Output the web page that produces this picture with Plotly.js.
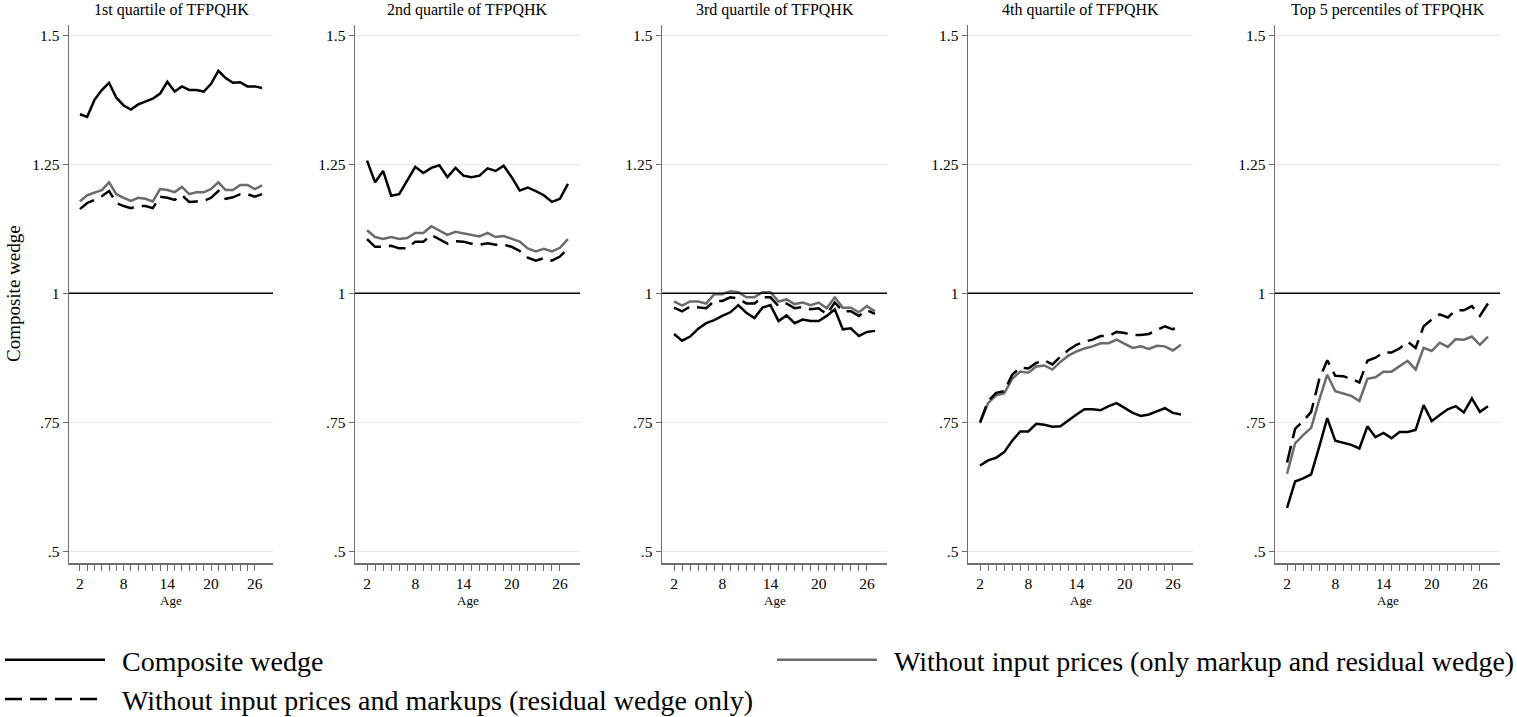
<!DOCTYPE html>
<html>
<head>
<meta charset="utf-8">
<script src="https://cdn.plot.ly/plotly-3.0.1.min.js"></script>
<style>
  html, body { margin: 0; padding: 0; background: #ffffff; }
  #chart { width: 1517px; height: 717px; }
</style>
</head>
<body>
<div id="chart"></div>
<script>
// ---------------- DATA ----------------
const ages = [2,3,4,5,6,7,8,9,10,11,12,13,14,15,16,17,18,19,20,21,22,23,24,25,26,27];

const panelTitles = [
  "1st quartile of TFPQHK",
  "2nd quartile of TFPQHK",
  "3rd quartile of TFPQHK",
  "4th quartile of TFPQHK",
  "Top 5 percentiles of TFPQHK"
];

const seriesNames = [
  "Composite wedge",
  "Without input prices (only markup and residual wedge)",
  "Without input prices and markups (residual wedge only)"
];

const xAxisTitle = "Age";
const yAxisTitle = "Composite wedge";

// 1st quartile
const composite_q1 = [1.347,1.342,1.375,1.394,1.408,1.379,1.364,1.356,1.366,1.371,1.377,1.387,1.410,1.391,1.401,1.394,1.394,1.391,1.406,1.431,1.417,1.408,1.409,1.401,1.401,1.398];
const noPrices_q1  = [1.178,1.190,1.195,1.200,1.215,1.192,1.185,1.179,1.185,1.183,1.178,1.202,1.200,1.196,1.206,1.192,1.196,1.196,1.202,1.215,1.200,1.200,1.210,1.210,1.202,1.209];
const residual_q1  = [1.163,1.175,1.181,1.188,1.198,1.175,1.169,1.165,1.169,1.169,1.165,1.187,1.185,1.181,1.190,1.177,1.178,1.179,1.185,1.198,1.183,1.186,1.192,1.192,1.187,1.192];

// 2nd quartile
const composite_q2 = [1.257,1.215,1.237,1.189,1.192,1.219,1.245,1.233,1.243,1.248,1.225,1.243,1.228,1.225,1.228,1.242,1.237,1.247,1.225,1.199,1.205,1.198,1.190,1.177,1.183,1.212];
const noPrices_q2  = [1.122,1.109,1.105,1.109,1.105,1.107,1.117,1.117,1.130,1.121,1.113,1.119,1.116,1.113,1.110,1.117,1.109,1.111,1.105,1.100,1.087,1.081,1.086,1.081,1.088,1.105];
const residual_q2  = [1.105,1.090,1.090,1.092,1.087,1.087,1.100,1.100,1.113,1.105,1.096,1.101,1.100,1.096,1.094,1.097,1.094,1.094,1.090,1.082,1.069,1.063,1.068,1.063,1.071,1.087];

// 3rd quartile
const composite_q3 = [0.921,0.908,0.916,0.931,0.942,0.948,0.956,0.963,0.977,0.962,0.952,0.972,0.977,0.946,0.957,0.942,0.949,0.946,0.946,0.956,0.969,0.930,0.932,0.917,0.925,0.927];
const noPrices_q3  = [0.984,0.976,0.984,0.984,0.980,0.998,0.998,1.004,1.002,0.992,0.992,1.002,1.002,0.984,0.988,0.979,0.982,0.977,0.982,0.971,0.992,0.972,0.972,0.963,0.975,0.965];
const residual_q3  = [0.972,0.965,0.974,0.973,0.971,0.985,0.985,0.992,0.990,0.980,0.980,0.992,0.992,0.975,0.980,0.971,0.973,0.969,0.971,0.959,0.982,0.965,0.965,0.956,0.967,0.960];

// 4th quartile
const composite_q4 = [0.666,0.676,0.681,0.692,0.714,0.732,0.732,0.747,0.745,0.741,0.742,0.754,0.765,0.775,0.775,0.773,0.781,0.787,0.777,0.768,0.762,0.765,0.771,0.777,0.768,0.765];
const noPrices_q4  = [0.748,0.787,0.802,0.806,0.834,0.848,0.846,0.858,0.860,0.852,0.867,0.879,0.887,0.893,0.897,0.903,0.903,0.910,0.902,0.894,0.897,0.892,0.898,0.897,0.889,0.900];
const residual_q4  = [0.750,0.791,0.807,0.810,0.842,0.856,0.854,0.865,0.870,0.862,0.877,0.890,0.900,0.906,0.910,0.917,0.917,0.925,0.923,0.919,0.919,0.921,0.929,0.936,0.930,0.940];

// Top 5 percentiles
const composite_top5 = [0.584,0.635,0.641,0.649,0.702,0.758,0.714,0.710,0.706,0.699,0.742,0.721,0.729,0.719,0.731,0.731,0.735,0.783,0.752,0.764,0.775,0.781,0.769,0.796,0.770,0.781];
const noPrices_top5  = [0.650,0.709,0.725,0.739,0.793,0.842,0.810,0.806,0.801,0.791,0.834,0.837,0.848,0.848,0.858,0.869,0.852,0.894,0.888,0.904,0.896,0.911,0.910,0.916,0.900,0.916];
const residual_top5  = [0.672,0.737,0.752,0.770,0.833,0.870,0.840,0.839,0.834,0.827,0.869,0.875,0.885,0.885,0.893,0.906,0.894,0.936,0.949,0.959,0.953,0.967,0.967,0.975,0.956,0.980];

const compositeSeries = [composite_q1, composite_q2, composite_q3, composite_q4, composite_top5];
const noPricesSeries  = [noPrices_q1, noPrices_q2, noPrices_q3, noPrices_q4, noPrices_top5];
const residualSeries  = [residual_q1, residual_q2, residual_q3, residual_q4, residual_top5];

const ageTickVals = [2,3,4,5,6,7,8,9,10,11,12,13,14,15,16,17,18,19,20,21,22,23,24,25,26];
const ageTickText = ["2","","","","","","8","","","","","","14","","","","","","20","","","","","","26"];
const wedgeTickVals = [0.5, 0.75, 1, 1.25, 1.5];
const wedgeTickText = [".5", ".75", "1", "1.25", "1.5"];
const referenceLevel = 1;

// ---------------- STYLE ----------------
const FONT = '"Liberation Serif", "Times New Roman", Times, serif';
const W = 1517, H = 717;
const panelPx = [[69, 273], [355, 580], [662, 887], [968, 1193], [1275, 1500]];
const BLACK = '#000000', GRAY = '#6b6b6b', AXIS = '#6e6e6e';
const KEY_LEN = 100;

const traces = [];
const legendCommon = {
  xref: 'container', yref: 'container',
  y: 1 - 635/717, xanchor: 'left', yanchor: 'top',
  orientation: 'v', itemwidth: 112, tracegroupgap: 0,
  bgcolor: 'rgba(0,0,0,0)', borderwidth: 0,
  font: {family: FONT, size: 28, color: '#000'}
};
const layout = {
  width: W, height: H,
  margin: {l: 0, r: 0, t: 25, b: 154, pad: 0, autoexpand: false},
  paper_bgcolor: '#ffffff', plot_bgcolor: '#ffffff',
  font: {family: FONT, color: '#000000', size: 15},
  showlegend: true,
  annotations: [],
  shapes: [],
  legend: Object.assign({}, legendCommon, {x: 0}),
  legend2: Object.assign({}, legendCommon, {x: 772 / W})
};

for (let p = 0; p < 5; p++) {
  const n = p + 1;
  const xa = 'x' + (n === 1 ? '' : n);
  const ya = 'y' + (n === 1 ? '' : n);
  const first = p === 0;

  traces.push({
    x: ages, y: compositeSeries[p], xaxis: xa, yaxis: ya,
    type: 'scatter', mode: 'lines', name: seriesNames[0],
    line: {color: BLACK, width: 2.5}, showlegend: first, legend: 'legend',
    legendgroup: 'a'
  });
  traces.push({
    x: ages, y: noPricesSeries[p], xaxis: xa, yaxis: ya,
    type: 'scatter', mode: 'lines', name: seriesNames[1],
    line: {color: GRAY, width: 2.5}, showlegend: first, legend: 'legend2',
    legendgroup: 'b'
  });
  traces.push({
    x: ages, y: residualSeries[p], xaxis: xa, yaxis: ya,
    type: 'scatter', mode: 'lines', name: seriesNames[2],
    line: {color: BLACK, width: 2.5, dash: '17px,8px'}, showlegend: first, legend: 'legend',
    legendgroup: 'c'
  });

  const xKey = 'xaxis' + (n === 1 ? '' : n);
  const yKey = 'yaxis' + (n === 1 ? '' : n);
  layout[xKey] = {
    domain: [panelPx[p][0] / W, panelPx[p][1] / W],
    anchor: ya,
    range: [0.5, 28.5],
    tickmode: 'array', tickvals: ageTickVals, ticktext: ageTickText,
    ticks: 'outside', ticklen: 6, tickwidth: 1, tickcolor: AXIS,
    showline: true, linecolor: AXIS, linewidth: 1.5,
    showgrid: false, zeroline: false, automargin: false,
    tickfont: {family: FONT, size: 15.5, color: '#000'}
  };
  layout[yKey] = {
    domain: [0, 1],
    anchor: xa,
    range: [0.477, 1.52],
    tickmode: 'array', tickvals: wedgeTickVals, ticktext: wedgeTickText,
    ticks: 'outside', ticklen: 5, tickwidth: 1, tickcolor: AXIS,
    showline: true, linecolor: AXIS, linewidth: 1.5,
    showgrid: true, gridcolor: '#e8e8e8', gridwidth: 1,
    zeroline: false, automargin: false,
    tickfont: {family: FONT, size: 15.5, color: '#000'}
  };

  // panel title
  layout.annotations.push({
    text: panelTitles[p], xref: xa + ' domain', yref: ya + ' domain',
    x: 0.5, y: 1, xanchor: 'center', yanchor: 'bottom', yshift: 4,
    showarrow: false, font: {family: FONT, size: 16, color: '#000'}
  });
  // x-axis title
  layout.annotations.push({
    text: xAxisTitle, xref: xa + ' domain', yref: ya + ' domain',
    x: 0.5, y: 0, xanchor: 'center', yanchor: 'middle', yshift: -37,
    showarrow: false, font: {family: FONT, size: 13, color: '#000'}
  });
  // reference line at 1
  layout.shapes.push({
    type: 'line', xref: xa + ' domain', yref: ya,
    x0: 0, x1: 1, y0: referenceLevel, y1: referenceLevel,
    line: {color: '#000', width: 1.6}, layer: 'above'
  });
}

// y-axis title (only on the first panel)
layout.annotations.push({
  text: yAxisTitle, xref: 'paper', yref: 'y domain',
  x: 13 / W, y: 0.5, xanchor: 'center', yanchor: 'middle', textangle: -90,
  showarrow: false, font: {family: FONT, size: 19, color: '#000'}
});

Plotly.newPlot('chart', traces, layout, {staticPlot: true, displayModeBar: false}).then(function () {
  // legend keys are 100px long in the reference, with a wider gap before the label
  document.querySelectorAll('.legendlines path').forEach(function (pth) {
    pth.setAttribute('d', 'M5,0h' + KEY_LEN);
  });
});
</script>
</body>
</html>
